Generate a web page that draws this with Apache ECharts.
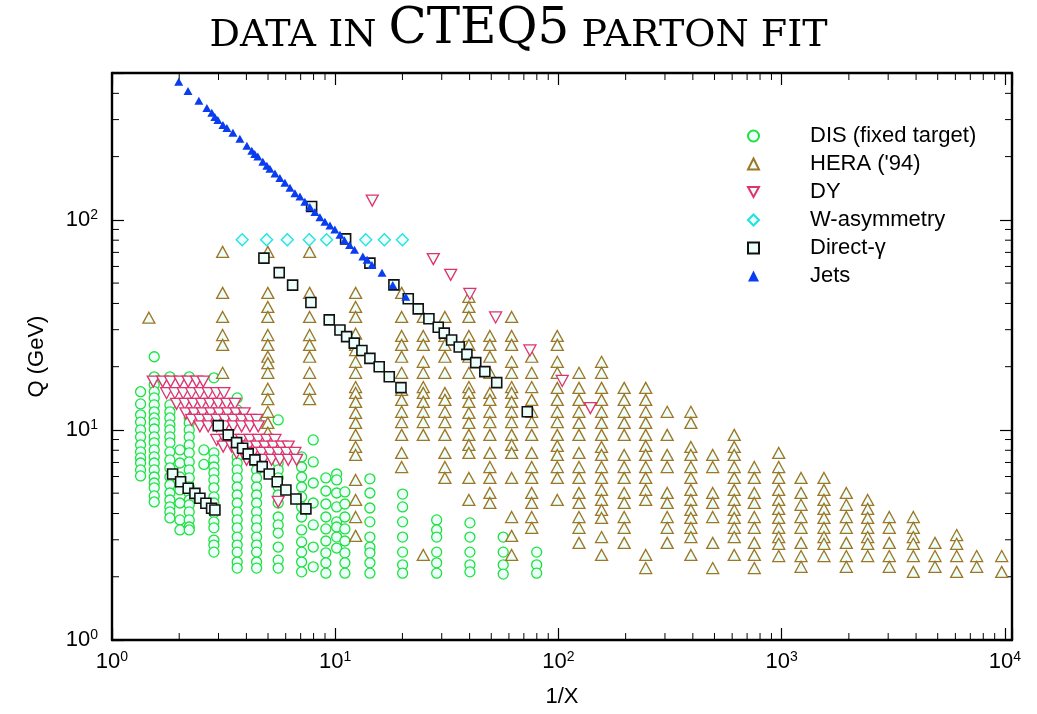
<!DOCTYPE html>
<html>
<head>
<meta charset="utf-8">
<title>Data in CTEQ5 parton fit</title>
<script src="https://cdn.jsdelivr.net/npm/echarts@6/dist/echarts.min.js"></script>
<style>
  html, body { margin: 0; padding: 0; background: #fff; }
  #chart { width: 1037px; height: 714px; }
</style>
</head>
<body>
<div id="chart"></div>
<script>
// ---- DIS fixed-target data: 1/X of each column and the Q values (GeV) in it ----
const disX = [1.343, 1.546, 1.817, 2.015, 2.218, 2.58, 2.861, 3.638, 4.444, 5.553, 7.07, 7.97,
              9.08, 10.15, 11.05, 14.30, 20.04, 28.47, 40.13, 56.57, 79.88];
const disQ = [
  [15.2, 13.3, 11.8, 10.9, 10.0, 9.26, 8.48, 7.86, 7.36, 6.96, 6.45, 6.04],
  [22.3, 17.9, 16.4, 15.2, 14.2, 13.15, 12.2, 11.4, 10.8, 10.1, 9.26, 8.68, 8.03, 7.44, 6.96, 6.45, 5.97, 5.59, 5.30, 4.85, 4.54],
  [17.9, 13.15, 12.2, 11.4, 10.56, 10.0, 9.26, 8.68, 7.86, 7.20, 6.59, 5.97, 5.47, 5.01, 4.64, 4.30, 4.07, 3.81],
  [8.03, 6.96, 5.97, 5.18, 4.49, 3.73, 3.34],
  [17.9, 11.4, 10.8, 10.0, 9.26, 8.48, 7.77, 7.04, 6.45, 5.91, 5.35, 5.01, 4.64, 4.40, 4.07, 3.73, 3.45, 3.34],
  [8.03, 6.85],
  [17.7, 7.77, 7.20, 6.66, 6.24, 5.78, 5.30, 4.80, 4.49, 4.03, 3.65, 3.42, 2.99, 2.83, 2.62],
  [14.2, 12.45, 8.03, 7.44, 6.96, 6.45, 5.91, 5.35, 4.90, 4.49, 4.07, 3.73, 3.42, 3.09, 2.83, 2.62, 2.35, 2.20],
  [11.16, 6.96, 6.45, 5.91, 5.35, 4.90, 4.49, 4.07, 3.73, 3.42, 3.09, 2.83, 2.62, 2.35, 2.20],
  [11.16, 6.96, 6.45, 5.91, 5.35, 4.90, 4.49, 3.85, 3.53, 3.23, 2.77, 2.40, 2.20],
  [7.44, 6.66, 5.97, 5.35, 4.80, 4.30, 3.85, 3.34, 2.93, 2.62, 2.35, 2.11],
  [8.96, 7.04, 5.59, 4.49, 3.53, 2.77, 2.23],
  [5.91, 5.12, 4.44, 3.85, 3.38, 2.96, 2.60, 2.33, 2.08],
  [6.17, 5.78, 5.01, 4.30, 3.65, 3.45, 3.09, 2.74],
  [5.07, 4.44, 3.85, 3.38, 2.96, 2.60, 2.33, 2.08],
  [5.85, 5.01, 4.25, 3.65, 3.09, 2.77, 2.60, 2.33, 2.08],
  [4.95, 4.30, 3.65, 3.09, 2.62, 2.28, 2.08],
  [3.73, 3.34, 3.09, 2.62, 2.33, 2.08],
  [3.61, 3.09, 2.62, 2.28, 2.11],
  [3.09, 2.62, 2.28, 2.06],
  [2.62, 2.28, 2.08]
];

// ---- HERA ('94) data: 1/X of each column and its Q values ----
const heraX = [1.463, 3.13, 4.99, 7.68, 12.34, 19.84, 24.8, 31.0, 39.7, 49.3, 61.7, 75.9, 98.8,
               123.6, 156, 197, 246, 307, 392, 491, 613, 754, 970, 1221, 1547, 1948, 2428,
               3034, 3888, 4862, 6081, 7475, 9676];
const heraQ = [
  [34.2],
  [70.4, 44.9, 34.5, 28.3, 25.4, 18.7],
  [70.4, 44.9, 38.5, 34.5, 28.3, 25.4, 22.3, 20.8, 18.7, 15.7, 14.0, 12.2, 10.8, 9.7],
  [70.4, 44.9, 34.5, 28.3, 25.4, 22.3, 18.7, 15.7, 14.0],
  [44.9, 38.5, 34.5, 28.7, 25.4, 24.0, 21.1, 18.7, 16.0, 15.0, 13.6, 12.05, 10.8, 9.47, 8.30, 7.60, 5.78, 4.64, 3.85, 3.13],
  [44.9, 34.5, 28.0, 25.4, 22.3, 18.7, 15.5, 13.9, 12.2, 10.9, 9.47, 7.77, 6.66],
  [34.5, 28.0, 25.4, 21.1, 18.7, 16.0, 15.0, 13.6, 12.2, 10.9, 9.47, 2.54],
  [34.5, 28.0, 25.4, 22.3, 18.7, 15.0, 13.9, 12.2, 10.9, 9.47, 7.77, 6.66, 5.91],
  [43.0, 38.5, 34.5, 28.0, 25.4, 22.3, 18.7, 16.0, 15.0, 13.6, 12.05, 10.8, 9.47, 8.48, 7.77, 5.91, 4.64],
  [28.0, 25.4, 22.3, 18.7, 15.0, 13.9, 12.2, 10.9, 9.47, 7.77, 6.66, 5.91, 5.01, 4.49],
  [34.5, 28.0, 25.4, 21.1, 18.7, 16.0, 15.0, 13.6, 12.2, 10.9, 9.47, 8.48, 7.77, 5.91, 3.85, 3.13, 2.54],
  [22.3, 18.7, 16.0, 13.9, 12.2, 10.9, 9.47, 7.77, 6.66, 5.91, 5.01, 4.49, 3.85, 3.42],
  [28.0, 25.4, 21.1, 18.7, 15.85, 13.9, 12.2, 10.9, 9.47, 8.39, 7.60, 6.66, 5.91, 4.64],
  [18.7, 15.85, 13.9, 12.2, 10.8, 9.47, 7.77, 6.66, 5.91, 5.01, 4.49, 3.85, 3.42, 2.90],
  [21.1, 18.7, 15.85, 13.9, 12.2, 10.8, 9.47, 8.30, 7.60, 6.66, 5.91, 5.18, 4.64, 4.16, 3.81, 3.09, 2.54],
  [15.85, 13.9, 12.2, 10.8, 9.47, 7.60, 6.66, 5.91, 5.01, 4.49, 3.85, 3.42, 2.90],
  [15.85, 13.9, 12.2, 10.8, 9.47, 8.39, 7.60, 6.66, 5.91, 5.18, 4.64, 2.54, 2.20],
  [12.2, 9.47, 7.60, 6.66, 5.01, 4.49, 3.85, 3.42, 2.90],
  [12.2, 10.8, 8.30, 7.60, 6.66, 5.91, 5.18, 4.64, 4.16, 3.81, 3.42, 3.09, 2.54],
  [7.60, 6.66, 5.01, 4.49, 3.85, 2.90, 2.20],
  [9.47, 8.30, 7.60, 6.66, 5.91, 5.18, 4.64, 4.16, 3.81, 3.42, 3.09, 2.54],
  [6.66, 5.91, 5.01, 4.49, 3.85, 3.42, 2.90, 2.54, 2.20],
  [7.77, 6.66, 5.91, 5.18, 4.64, 4.21, 3.81, 3.42, 3.09, 2.87, 2.51],
  [5.91, 5.01, 4.40, 3.85, 3.42, 2.90, 2.51, 2.23],
  [5.91, 5.18, 4.64, 4.21, 3.81, 3.42, 3.09, 2.87, 2.51],
  [5.01, 4.40, 3.85, 3.42, 2.90, 2.51, 2.23],
  [4.64, 4.21, 3.81, 3.42, 3.09, 2.87, 2.51],
  [3.85, 3.42, 2.90, 2.51, 2.23],
  [3.85, 3.42, 3.09, 2.87, 2.51, 2.11],
  [2.90, 2.51, 2.23],
  [3.16, 2.87, 2.51, 2.11],
  [2.51, 2.23],
  [2.51, 2.11]
];

// ---- Drell-Yan: rows of equal Q with their 1/X values, plus isolated points ----
const dyRowQ = [17.0, 14.96, 13.3, 12.0, 11.16, 10.4, 8.96, 8.33, 7.77, 7.21];
const dyRowX = [
  [1.530, 1.686, 1.830, 2.015, 2.194, 2.393, 2.563],
  [1.756, 1.913, 2.084, 2.274, 2.476, 2.698, 2.943, 3.172],
  [1.947, 2.121, 2.311, 2.520, 2.746, 2.991, 3.262, 3.553],
  [2.143, 2.335, 2.546, 2.774, 3.022, 3.295, 3.591, 3.912],
  [2.274, 2.476, 2.698, 2.943, 3.205, 3.491, 3.807, 4.148, 4.444],
  [2.476, 2.698, 2.943, 3.205, 3.491, 3.807, 4.148, 4.519],
  [2.943, 3.205, 3.491, 3.807, 4.148, 4.519, 4.929, 5.369],
  [3.149, 3.435, 3.741, 4.076, 4.444, 4.842, 5.276, 5.753, 6.158],
  [3.615, 3.940, 4.292, 4.681, 5.098, 5.553, 6.057, 6.598],
  [4.009, 4.368, 4.758, 5.188, 5.652, 6.158, 6.714]
];
const dySingleX = [5.553, 14.65, 27.5, 32.9, 40.1, 52.3, 74.5, 104, 139];
const dySingleQ = [4.55, 123.6, 65.0, 54.7, 44.4, 34.3, 23.9, 17.1, 12.7];

// ---- W lepton asymmetry ----
const wX = [3.83, 4.93, 6.10, 7.65, 9.15, 13.7, 16.6, 20.0];
const wQ = [80.4, 80.4, 80.4, 80.4, 80.4, 80.4, 80.4, 80.4];

// ---- Direct photon ----
const gammaX = [1.868, 2.029, 2.194, 2.352, 2.476, 2.634, 2.794, 2.891,
  2.991, 3.316, 3.615, 3.847, 4.076, 4.368, 4.709, 5.061, 5.497, 6.013, 6.668, 7.39,
  4.793, 5.612, 6.443, 7.783, 9.40, 10.50, 11.25, 12.17, 13.17, 14.30, 15.74, 17.46, 19.70,
  7.84, 11.13, 14.30, 18.32, 21.24, 23.54, 26.29, 28.94, 30.79, 33.23, 35.93, 38.9, 42.6, 46.8, 52.9, 72.5];
const gammaQ = [6.17, 5.67, 5.28, 4.99, 4.73, 4.48, 4.24, 4.16,
  10.48, 9.47, 8.70, 8.18, 7.69, 7.20, 6.69, 6.17, 5.67, 5.18, 4.69, 4.21,
  65.7, 56.1, 48.9, 40.4, 33.4, 29.9, 27.8, 25.9, 23.9, 21.9, 20.0, 17.9, 15.9,
  115.7, 81.2, 62.2, 49.0, 42.1, 37.7, 33.8, 30.8, 28.9, 26.8, 24.8, 22.9, 20.9, 18.95, 16.8, 12.2];

// ---- Inclusive jets ----
const jetsX = [1.99, 2.19, 2.45, 2.66, 2.80, 2.89, 2.98, 3.14, 3.27, 3.48,
  3.74, 4.02, 4.23, 4.36, 4.50, 4.74, 4.94, 5.10, 5.37, 5.65,
  5.95, 6.27, 6.60, 6.95, 7.31, 7.70, 8.11, 8.54, 8.99, 9.47,
  9.96, 10.5, 11.0, 11.6, 12.2, 13.3, 13.9, 14.6, 16.2, 18.1, 20.7];
const jetsQ = [454, 411, 369, 341, 323, 309, 299, 283, 274, 260,
  243, 225, 213, 206, 200, 189, 181, 175, 166, 158,
  150, 142, 134, 129, 122, 115, 109, 103, 98, 94,
  90, 85, 80, 76, 72, 67, 64.5, 61, 56, 49, 43];

// ---- axis decoration ----
const xMinorTicks = [2, 3, 4, 5, 6, 7, 8, 9, 20, 30, 40, 50, 60, 70, 80, 90,
  200, 300, 400, 500, 600, 700, 800, 900, 2000, 3000, 4000, 5000, 6000, 7000, 8000, 9000];
const yMinorTicks = [2, 3, 4, 5, 6, 7, 8, 9, 20, 30, 40, 50, 60, 70, 80, 90, 200, 300, 400];
const seriesNames = ['DIS (fixed target)', "HERA ('94)", 'DY', 'W-asymmetry', 'Direct-\u03b3', 'Jets'];

// ---- helpers turning the tables into [x, y] pairs ----
function fromColumns(xs, qs) {
  const out = [];
  xs.forEach((x, i) => qs[i].forEach(q => out.push([x, q])));
  return out;
}
function fromRows(qs, xs) {
  const out = [];
  qs.forEach((q, i) => xs[i].forEach(x => out.push([x, q])));
  return out;
}
function fromPairs(xs, qs) {
  return xs.map((x, i) => [x, qs[i]]);
}

const SANS = '"Liberation Sans", Arial, Helvetica, sans-serif';
const SERIF = '"DejaVu Serif", "Liberation Serif", serif';
const FILL = '#ecfffb';

function powerLabel(v) {
  const lg = Math.log10(v);
  const e = Math.round(lg);
  if (Math.abs(lg - e) > 1e-6) return '';
  return '{b|10}{s|' + e + '}';
}
const labelRich = {
  b: { fontSize: 22, fontFamily: SANS, color: '#000', lineHeight: 24 },
  s: { fontSize: 14, fontFamily: SANS, color: '#000', lineHeight: 14, verticalAlign: 'top' }
};

const axisBase = {
  type: 'log',
  logBase: 10,
  axisLine: { show: true, onZero: false, lineStyle: { color: '#000', width: 2.4 } },
  axisTick: { show: true, inside: true, length: 12, lineStyle: { color: '#000', width: 1.2 } },
  minorTick: { show: false },
  splitLine: { show: false },
  minorSplitLine: { show: false }
};

const chart = echarts.init(document.getElementById('chart'), null, { renderer: 'canvas' });

chart.setOption({
  animation: false,
  backgroundColor: '#fff',
  title: {
    text: '{s|DATA IN }{b|CTEQ5}{s| PARTON FIT}',
    left: 'center',
    top: 0,
    textStyle: {
      fontWeight: 'normal',
      rich: {
        s: { fontFamily: SERIF, fontSize: 38, fontWeight: 'normal', color: '#000', lineHeight: 38, verticalAlign: 'bottom' },
        b: { fontFamily: SERIF, fontSize: 50, fontWeight: 'normal', color: '#000', lineHeight: 50, verticalAlign: 'bottom' }
      }
    }
  },
  grid: { left: 112, right: 25, top: 73, bottom: 74, containLabel: false },
  legend: {
    data: seriesNames,
    orient: 'vertical',
    left: 742,
    top: 119,
    itemWidth: 11,
    itemHeight: 11,
    itemGap: 4,
    selectedMode: false,
    textStyle: { fontSize: 22, fontFamily: SANS, color: '#000', lineHeight: 24, padding: [0, 0, 0, 46] }
  },
  xAxis: [
    Object.assign({}, axisBase, {
      position: 'bottom', min: 1, max: 10760,
      name: '1/X', nameLocation: 'middle', nameGap: 46,
      nameTextStyle: { fontSize: 22, fontFamily: SANS, color: '#000' },
      axisLabel: { formatter: powerLabel, rich: labelRich, margin: 10 }
    }),
    Object.assign({}, axisBase, {
      position: 'top', min: 1, max: 10760, axisLabel: { show: false }
    })
  ],
  yAxis: [
    Object.assign({}, axisBase, {
      position: 'left', min: 1, max: 500,
      name: 'Q (GeV)', nameLocation: 'middle', nameGap: 64,
      nameTextStyle: { fontSize: 22, fontFamily: SANS, color: '#000' },
      axisLabel: { formatter: powerLabel, rich: labelRich, margin: 14 }
    }),
    Object.assign({}, axisBase, {
      position: 'right', min: 1, max: 500, axisLabel: { show: false }
    })
  ],
  series: [
    {
      // minor log ticks on all four sides of the frame
      type: 'custom',
      silent: true,
      z: 1,
      xAxisIndex: 0, yAxisIndex: 0,
      encode: { x: 0, y: 1 },
      data: xMinorTicks.map(v => [v, 1, 0]).concat(yMinorTicks.map(v => [1, v, 1])),
      renderItem: function (params, api) {
        const cs = params.coordSys;
        const L = 7;
        const st = { stroke: '#000', lineWidth: 1 };
        if (api.value(2) === 0) {
          const x = api.coord([api.value(0), 1])[0];
          return { type: 'group', children: [
            { type: 'line', shape: { x1: x, y1: cs.y + cs.height, x2: x, y2: cs.y + cs.height - L }, style: st },
            { type: 'line', shape: { x1: x, y1: cs.y, x2: x, y2: cs.y + L }, style: st }
          ] };
        }
        const y = api.coord([1, api.value(1)])[1];
        return { type: 'group', children: [
          { type: 'line', shape: { x1: cs.x, y1: y, x2: cs.x + L, y2: y }, style: st },
          { type: 'line', shape: { x1: cs.x + cs.width, y1: y, x2: cs.x + cs.width - L, y2: y }, style: st }
        ] };
      }
    },
    {
      name: seriesNames[0], type: 'scatter', z: 2,
      data: fromColumns(disX, disQ),
      symbol: 'circle', symbolSize: 10,
      itemStyle: { color: FILL, borderColor: '#1fe03f', borderWidth: 1.3, opacity: 1 }
    },
    {
      name: seriesNames[1], type: 'scatter', z: 3,
      data: fromColumns(heraX, heraQ),
      symbol: 'triangle', symbolSize: [12, 11],
      itemStyle: { color: FILL, borderColor: '#9f7526', borderWidth: 1.3, opacity: 1 }
    },
    {
      name: seriesNames[2], type: 'scatter', z: 4,
      data: fromRows(dyRowQ, dyRowX).concat(fromPairs(dySingleX, dySingleQ)),
      symbol: 'path://M0,0L10,0L5,9Z', symbolSize: [12, 11],
      itemStyle: { color: FILL, borderColor: '#e3306f', borderWidth: 1.3, opacity: 1 }
    },
    {
      name: seriesNames[3], type: 'scatter', z: 5,
      data: fromPairs(wX, wQ),
      symbol: 'diamond', symbolSize: [12, 12],
      itemStyle: { color: FILL, borderColor: '#1fe2e2', borderWidth: 1.3, opacity: 1 }
    },
    {
      name: seriesNames[4], type: 'scatter', z: 6,
      data: fromPairs(gammaX, gammaQ),
      symbol: 'rect', symbolSize: 10,
      itemStyle: { color: FILL, borderColor: '#111', borderWidth: 1.6, opacity: 1 }
    },
    {
      name: seriesNames[5], type: 'scatter', z: 7,
      data: fromPairs(jetsX, jetsQ),
      symbol: 'triangle', symbolSize: [9, 8],
      itemStyle: { color: '#0a3cf0', borderWidth: 0, opacity: 1 }
    }
  ]
});
</script>
</body>
</html>
